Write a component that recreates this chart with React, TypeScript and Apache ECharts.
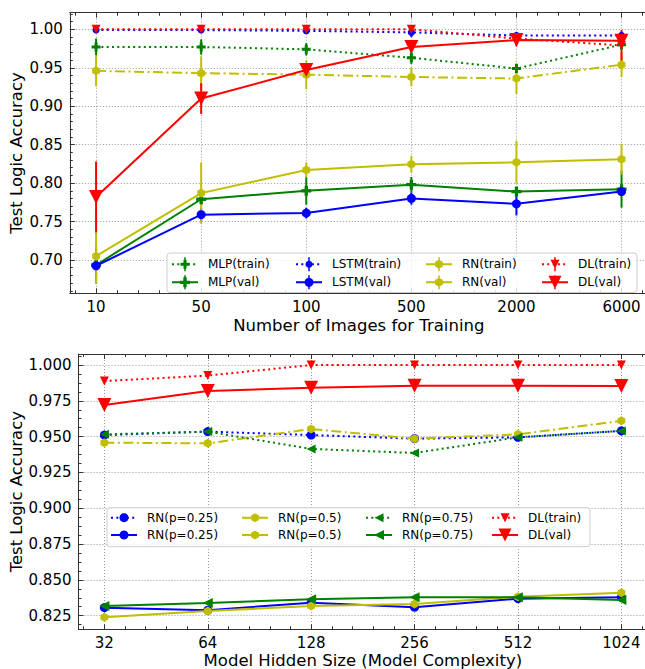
import React, { useEffect, useRef } from 'react';
import * as echarts from 'echarts';

const FONT = 'DejaVu Sans';
const AXIS_COLOR = '#333';
const GREEN = '#008000';
const BLUE = '#0000ff';
const YELLOW = '#bfbf00';
const RED = '#ff0000';

// ---------- top chart data ----------
const imageCounts = ['10', '50', '100', '500', '2000', '6000'];
const mlpTrain = [0.977, 0.977, 0.974, 0.963, 0.949, 0.980];
const mlpTrainErr = [0.011, 0.010, 0.008, 0.008, 0.006, 0.006];
const mlpVal = [0.6935, 0.779, 0.790, 0.798, 0.789, 0.792];
const mlpValErr = [0.024, 0.008, 0.018, 0.010, 0.005, 0.024];
const lstmTrain = [0.999, 0.999, 0.998, 0.996, 0.992, 0.992];
const lstmTrainErr = [0.003, 0.003, 0.004, 0.006, 0.003, 0.005];
const lstmVal = [0.6925, 0.759, 0.761, 0.780, 0.773, 0.789];
const lstmValErr = [0.012, 0.009, 0.007, 0.008, 0.015, 0.005];
const rnTrain = [0.946, 0.943, 0.941, 0.938, 0.936, 0.954];
const rnTrainErr = [0.020, 0.022, 0.019, 0.012, 0.020, 0.016];
const rnVal = [0.705, 0.787, 0.817, 0.8245, 0.827, 0.831];
const rnValErr = [0.035, 0.040, 0.010, 0.011, 0.028, 0.020];
const dlTrain = [1.0, 1.0, 1.0, 1.0, 0.988, 0.979];
const dlTrainErr = [0.002, 0.002, 0.002, 0.003, 0.005, 0.020];
const dlVal = [0.782, 0.910, 0.947, 0.977, 0.986, 0.985];
const dlValErr = [0.046, 0.020, 0.006, 0.006, 0.008, 0.008];

// ---------- bottom chart data ----------
const hiddenSizes = ['32', '64', '128', '256', '512', '1024'];
const rn25Train = [0.9511, 0.9535, 0.9511, 0.9486, 0.9495, 0.954];
const rn25Val = [0.8306, 0.8288, 0.8341, 0.8309, 0.8369, 0.8378];
const rn50Train = [0.9458, 0.9453, 0.9553, 0.9486, 0.9516, 0.961];
const rn50Val = [0.8239, 0.8283, 0.8318, 0.8332, 0.8383, 0.841];
const rn75Train = [0.9516, 0.9535, 0.9414, 0.9386, 0.9495, 0.954];
const rn75Val = [0.8318, 0.8339, 0.8364, 0.8378, 0.8378, 0.836];
const dlTrain2 = [0.9888, 0.9926, 1.0, 1.0, 1.0, 1.0];
const dlVal2 = [0.972, 0.9818, 0.9842, 0.9856, 0.9856, 0.9853];

// ---------- tick positions ----------
const X_MAJOR = [0, 1, 2, 3, 4, 5];
const X_MINOR = [-0.2, 0.2, 0.4, 0.6, 0.8, 1.2, 1.4, 1.6, 1.8, 2.2, 2.4, 2.6, 2.8, 3.2, 3.4, 3.6, 3.8, 4.2, 4.4, 4.6, 4.8, 5.2];
const Y1_MAJOR = [0.7, 0.75, 0.8, 0.85, 0.9, 0.95, 1.0];
const Y2_MAJOR = [0.825, 0.85, 0.875, 0.9, 0.925, 0.95, 0.975, 1.0];

function minorTicks(start: number, end: number, step: number, majors: number[]) {
  const out: number[] = [];
  for (let i = 0; start + i * step <= end + 1e-9; i++) {
    const v = Math.round((start + i * step) * 1e6) / 1e6;
    if (!majors.some((m) => Math.abs(m - v) < 1e-6)) out.push(v);
  }
  return out;
}
const Y1_MINOR = minorTicks(0.66, 1.02, 0.01, Y1_MAJOR);
const Y2_MINOR = minorTicks(0.81875, 1.00625, 0.00625, Y2_MAJOR);

// ---------- marker / legend icon paths ----------
type MarkerKind = 'plus' | 'circle' | 'hex' | 'triDown' | 'triLeft';
type LineKind = 'solid' | 'dotted' | 'dashdot';

const f = (n: number) => n.toFixed(2);
function poly(pts: number[][]) {
  return 'M' + pts.map((p) => f(p[0]) + ' ' + f(p[1])).join('L') + 'Z';
}
function rect(x0: number, y0: number, x1: number, y1: number) {
  return poly([[x0, y0], [x1, y0], [x1, y1], [x0, y1]]);
}
function markerPath(kind: MarkerKind, s: number, cx: number, cy: number) {
  const h = s / 2;
  if (kind === 'plus') {
    const a = s / 6;
    return poly([
      [cx - a, cy - h], [cx + a, cy - h], [cx + a, cy - a], [cx + h, cy - a], [cx + h, cy + a], [cx + a, cy + a],
      [cx + a, cy + h], [cx - a, cy + h], [cx - a, cy + a], [cx - h, cy + a], [cx - h, cy - a], [cx - a, cy - a],
    ]);
  }
  if (kind === 'circle' || kind === 'hex') {
    const n = kind === 'circle' ? 24 : 6;
    const pts: number[][] = [];
    for (let i = 0; i < n; i++) {
      const t = -Math.PI / 2 + (i * 2 * Math.PI) / n;
      pts.push([cx + h * Math.cos(t), cy + h * Math.sin(t)]);
    }
    return poly(pts);
  }
  if (kind === 'triDown') return poly([[cx - h, cy - h], [cx + h, cy - h], [cx, cy + h]]);
  return poly([[cx + h, cy - h], [cx + h, cy + h], [cx - h, cy]]);
}
function symbolOf(kind: MarkerKind) {
  return 'path://' + markerPath(kind, 2, 1, 1);
}
const IW = 31;
const IH = 14;
function lineSeg(kind: LineKind) {
  const cy = IH / 2;
  const t = 1;
  const L = 26;
  if (kind === 'solid') return rect(0, cy - t, L, cy + t);
  const pat = kind === 'dotted' ? [2, 3.3] : [9, 3, 2, 3];
  let x = 0;
  let i = 0;
  let out = '';
  while (x < L) {
    const len = pat[i % pat.length];
    if (i % 2 === 0) out += rect(x, cy - t, Math.min(L, x + len), cy + t);
    x += len;
    i++;
  }
  return out;
}
function legendIcon(line: LineKind, marker: MarkerKind, size: number, err: boolean) {
  let d = 'M0 0M' + IW + ' ' + IH;
  d += lineSeg(line);
  if (err) d += rect(12.25, 0, 13.75, IH);
  d += markerPath(marker, Math.min(size, 13), 13, IH / 2);
  return 'path://' + d;
}

// ---------- series specs ----------
interface Spec { name: string; data: number[]; err?: number[]; color: string; line: LineKind; marker: MarkerKind; size: number; }

const topSpecs: Spec[] = [
  { name: 'MLP(train)', data: mlpTrain, err: mlpTrainErr, color: GREEN, line: 'dotted', marker: 'plus', size: 9 },
  { name: 'MLP(val)', data: mlpVal, err: mlpValErr, color: GREEN, line: 'solid', marker: 'plus', size: 10 },
  { name: 'LSTM(train)', data: lstmTrain, err: lstmTrainErr, color: BLUE, line: 'dotted', marker: 'circle', size: 7 },
  { name: 'LSTM(val)', data: lstmVal, err: lstmValErr, color: BLUE, line: 'solid', marker: 'circle', size: 9 },
  { name: 'RN(train)', data: rnTrain, err: rnTrainErr, color: YELLOW, line: 'dashdot', marker: 'hex', size: 9 },
  { name: 'RN(val)', data: rnVal, err: rnValErr, color: YELLOW, line: 'solid', marker: 'hex', size: 9 },
  { name: 'DL(train)', data: dlTrain, err: dlTrainErr, color: RED, line: 'dotted', marker: 'triDown', size: 9 },
  { name: 'DL(val)', data: dlVal, err: dlValErr, color: RED, line: 'solid', marker: 'triDown', size: 14 },
];

const bottomSpecs: Spec[] = [
  { name: 'RN(p=0.25)', data: rn25Train, color: BLUE, line: 'dotted', marker: 'circle', size: 9 },
  { name: 'RN(p=0.25) ', data: rn25Val, color: BLUE, line: 'solid', marker: 'circle', size: 9 },
  { name: 'RN(p=0.5)', data: rn50Train, color: YELLOW, line: 'dashdot', marker: 'hex', size: 9 },
  { name: 'RN(p=0.5) ', data: rn50Val, color: YELLOW, line: 'solid', marker: 'hex', size: 9 },
  { name: 'RN(p=0.75)', data: rn75Train, color: GREEN, line: 'dotted', marker: 'triLeft', size: 9 },
  { name: 'RN(p=0.75) ', data: rn75Val, color: GREEN, line: 'solid', marker: 'triLeft', size: 10 },
  { name: 'DL(train) ', data: dlTrain2, color: RED, line: 'dotted', marker: 'triDown', size: 9 },
  { name: 'DL(val) ', data: dlVal2, color: RED, line: 'solid', marker: 'triDown', size: 14 },
];

function dashOf(kind: LineKind): any {
  if (kind === 'solid') return 'solid';
  if (kind === 'dotted') return [2, 3.3];
  return [10, 3.5, 2, 3.5];
}

function makeSeries(specs: Spec[], xi: number, yi: number) {
  const out: any[] = [];
  specs.forEach((s, k) => {
    if (s.err) {
      out.push({
        type: 'custom', name: s.name + '_err', xAxisIndex: xi, yAxisIndex: yi, silent: true, z: 2 + k * 0.01,
        data: s.data.map((v, i) => [i, v, s.err![i]]),
        encode: { x: 0, y: 1 },
        renderItem: (params: any, api: any) => {
          const x = api.value(0);
          const y = api.value(1);
          const e = api.value(2);
          const p1 = api.coord([x, y + e]);
          const p2 = api.coord([x, y - e]);
          return { type: 'line', shape: { x1: p1[0], y1: p1[1], x2: p2[0], y2: p2[1] }, style: { stroke: s.color, lineWidth: 2 } };
        },
      });
    }
    out.push({
      type: 'line', name: s.name, xAxisIndex: xi, yAxisIndex: yi, z: 3 + k * 0.01,
      data: s.data.map((v, i) => [i, v]),
      symbol: symbolOf(s.marker), symbolSize: s.size, symbolKeepAspect: true, showSymbol: true,
      itemStyle: { color: s.color, borderWidth: 0 },
      lineStyle: { color: s.color, width: 2, type: dashOf(s.line), cap: 'butt' },
      emphasis: { disabled: true }, silent: true,
    });
  });
  return out;
}

function makeLegends(specs: Spec[], lefts: number[], top: number, gap: number, err: boolean) {
  const out: any[] = [];
  for (let c = 0; c < 4; c++) {
    out.push({
      orient: 'vertical', left: lefts[c], top, padding: 0, itemGap: gap, itemWidth: IW, itemHeight: IH,
      selectedMode: false, z: 10,
      itemStyle: { borderWidth: 0 },
      textStyle: { fontSize: 12, fontFamily: FONT, color: '#000' },
      formatter: (n: string) => n.trim(),
      data: [specs[2 * c], specs[2 * c + 1]].map((s) => ({ name: s.name, icon: legendIcon(s.line, s.marker, s.size, err) })),
    });
  }
  return out;
}

const nameStyle = { fontSize: 16.5, fontFamily: FONT, color: '#000' };
const labelStyle = { fontSize: 15, fontFamily: FONT, color: '#000' };

function xAxisSet(grid: number, labels: string[], name: string, nameGap: number) {
  const base = { type: 'value', gridIndex: grid, min: -0.25, max: 5.25 };
  const tickLine = { color: AXIS_COLOR, width: 1 };
  return [
    {
      ...base, position: 'bottom',
      axisLine: { show: true, onZero: false, lineStyle: tickLine },
      axisTick: { show: true, inside: true, length: 5, customValues: X_MAJOR, lineStyle: tickLine },
      axisLabel: { show: true, customValues: X_MAJOR, margin: 6, ...labelStyle, formatter: (v: number) => labels[Math.round(v)] },
      splitLine: { show: true, lineStyle: { type: [1, 2], color: '#999', width: 1 } },
      name, nameLocation: 'middle', nameGap, nameTextStyle: nameStyle, nameMoveOverlap: false,
    },
    {
      ...base, position: 'bottom',
      axisLine: { show: false, onZero: false },
      axisTick: { show: true, inside: true, length: 3, customValues: X_MINOR, lineStyle: tickLine },
      axisLabel: { show: false }, splitLine: { show: false },
    },
    {
      ...base, position: 'top',
      axisLine: { show: true, onZero: false, lineStyle: tickLine },
      axisTick: { show: true, inside: true, length: 5, customValues: X_MAJOR, lineStyle: tickLine },
      axisLabel: { show: false }, splitLine: { show: false },
    },
    {
      ...base, position: 'top',
      axisLine: { show: false, onZero: false },
      axisTick: { show: true, inside: true, length: 3, customValues: X_MINOR, lineStyle: tickLine },
      axisLabel: { show: false }, splitLine: { show: false },
    },
  ];
}

function yAxisSet(grid: number, min: number, max: number, major: number[], minor: number[], digits: number, nameGap: number) {
  const base = { type: 'value', gridIndex: grid, min, max, position: 'left' };
  const tickLine = { color: AXIS_COLOR, width: 1 };
  return [
    {
      ...base,
      axisLine: { show: true, onZero: false, lineStyle: tickLine },
      axisTick: { show: true, inside: true, length: 5, customValues: major, lineStyle: tickLine },
      axisLabel: { show: true, customValues: major, margin: 7, ...labelStyle, formatter: (v: number) => v.toFixed(digits) },
      splitLine: { show: true, lineStyle: { type: [1, 2], color: '#999', width: 1 } },
      name: 'Test Logic Accuracy', nameLocation: 'middle', nameGap, nameTextStyle: nameStyle, nameMoveOverlap: false,
    },
    {
      ...base,
      axisLine: { show: false, onZero: false },
      axisTick: { show: true, inside: true, length: 3, customValues: minor, lineStyle: tickLine },
      axisLabel: { show: false }, splitLine: { show: false },
    },
  ];
}

function buildOption(): any {
  return {
    animation: false,
    backgroundColor: '#fff',
    textStyle: { fontFamily: FONT },
    grid: [
      { left: 69.8, top: 12.7, width: 578, height: 280.6, outerBoundsMode: 'none', containLabel: false },
      { left: 78.5, top: 354, width: 568.7, height: 275.3, outerBoundsMode: 'none', containLabel: false },
    ],
    xAxis: [
      ...xAxisSet(0, imageCounts, 'Number of Images for Training', 23.5),
      ...xAxisSet(1, hiddenSizes, 'Model Hidden Size (Model Complexity)', 22.5),
    ],
    yAxis: [
      ...yAxisSet(0, 0.6567, 1.0216, Y1_MAJOR, Y1_MINOR, 2, 45),
      ...yAxisSet(1, 0.8155, 1.00768, Y2_MAJOR, Y2_MINOR, 3, 53.5),
    ],
    legend: [
      ...makeLegends(topSpecs, [172, 296, 426, 542], 257.3, 4, true),
      ...makeLegends(bottomSpecs, [111, 242, 366, 492], 510.7, 3.3, false),
    ],
    graphic: [
      { type: 'rect', z: 9, silent: true, shape: { x: 167, y: 253, width: 470, height: 39.5, r: 3 }, style: { fill: 'rgba(255,255,255,0.8)', stroke: '#ccc', lineWidth: 1 } },
      { type: 'rect', z: 9, silent: true, shape: { x: 107, y: 507.7, width: 483, height: 39, r: 3 }, style: { fill: 'rgba(255,255,255,0.8)', stroke: '#ccc', lineWidth: 1 } },
    ],
    series: [...makeSeries(topSpecs, 0, 0), ...makeSeries(bottomSpecs, 4, 2)],
  };
}

export default function App() {
  const ref = useRef<HTMLDivElement>(null);
  useEffect(() => {
    if (!ref.current) return;
    const chart = echarts.init(ref.current, null, { renderer: 'svg' });
    chart.setOption(buildOption());
    return () => chart.dispose();
  }, []);
  return (
    <div
      ref={ref}
      style={{ position: 'fixed', left: 0, top: 0, width: 645, height: 669, overflow: 'hidden', background: '#fff' }}
    />
  );
}
